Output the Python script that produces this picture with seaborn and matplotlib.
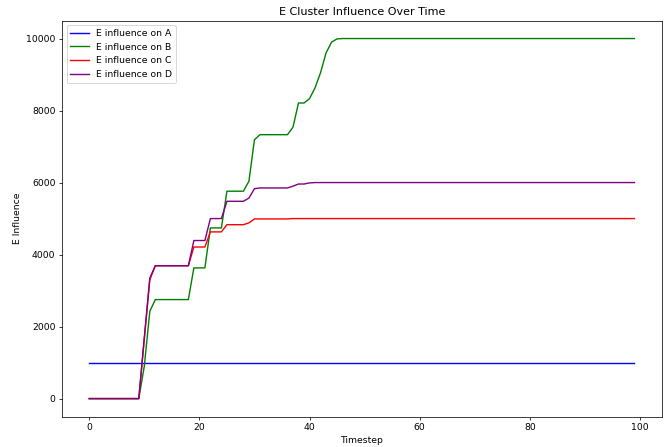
import pandas as pd
import seaborn as sns
import numpy as np
import matplotlib.pyplot as plt

timesteps = list(range(100))

# 读图得到的数值
infl_a = [1000] * 100
infl_b = ([0] * 10 + [900, 2425] + [2750] * 7 + [3630] * 3 + [4740] * 3 + [5760] * 4
          + [6040, 7190] + [7330] * 6 + [7540] + [8210] * 2
          + [8330, 8630, 9050, 9600, 9900, 9990] + [10000] * 54)
infl_c = ([0] * 10 + [1650, 3300] + [3690] * 7 + [4210] * 3 + [4630] * 3 + [4830] * 4
          + [4880, 4990] + [4990] * 6 + [5000] * 63)
infl_d = ([0] * 10 + [1700, 3350] + [3690] * 7 + [4390] * 3 + [5000] * 3 + [5480] * 4
          + [5570, 5830] + [5850] * 6 + [5900] + [5960] * 2 + [5990] + [6000] * 59)

series_names = ['E influence on A', 'E influence on B', 'E influence on C', 'E influence on D']
series_colors = ['blue', 'green', 'red', 'purple']

df = pd.DataFrame({
    'Timestep': timesteps * 4,
    'E Influence': infl_a + infl_b + infl_c + infl_d,
    'series': np.repeat(series_names, 100),
})

fig, ax = plt.subplots(figsize=(10, 6.672), dpi=67)
sns.lineplot(data=df, x='Timestep', y='E Influence', hue='series',
             palette=dict(zip(series_names, series_colors)), ax=ax)
ax.set_title('E Cluster Influence Over Time')
ax.set_xlabel('Timestep')
ax.set_ylabel('E Influence')
ax.legend(loc='upper left', title=None)
plt.subplots_adjust(left=0.0925, right=0.9876, top=0.954, bottom=0.068)
plt.savefig('out.png', dpi=67)
